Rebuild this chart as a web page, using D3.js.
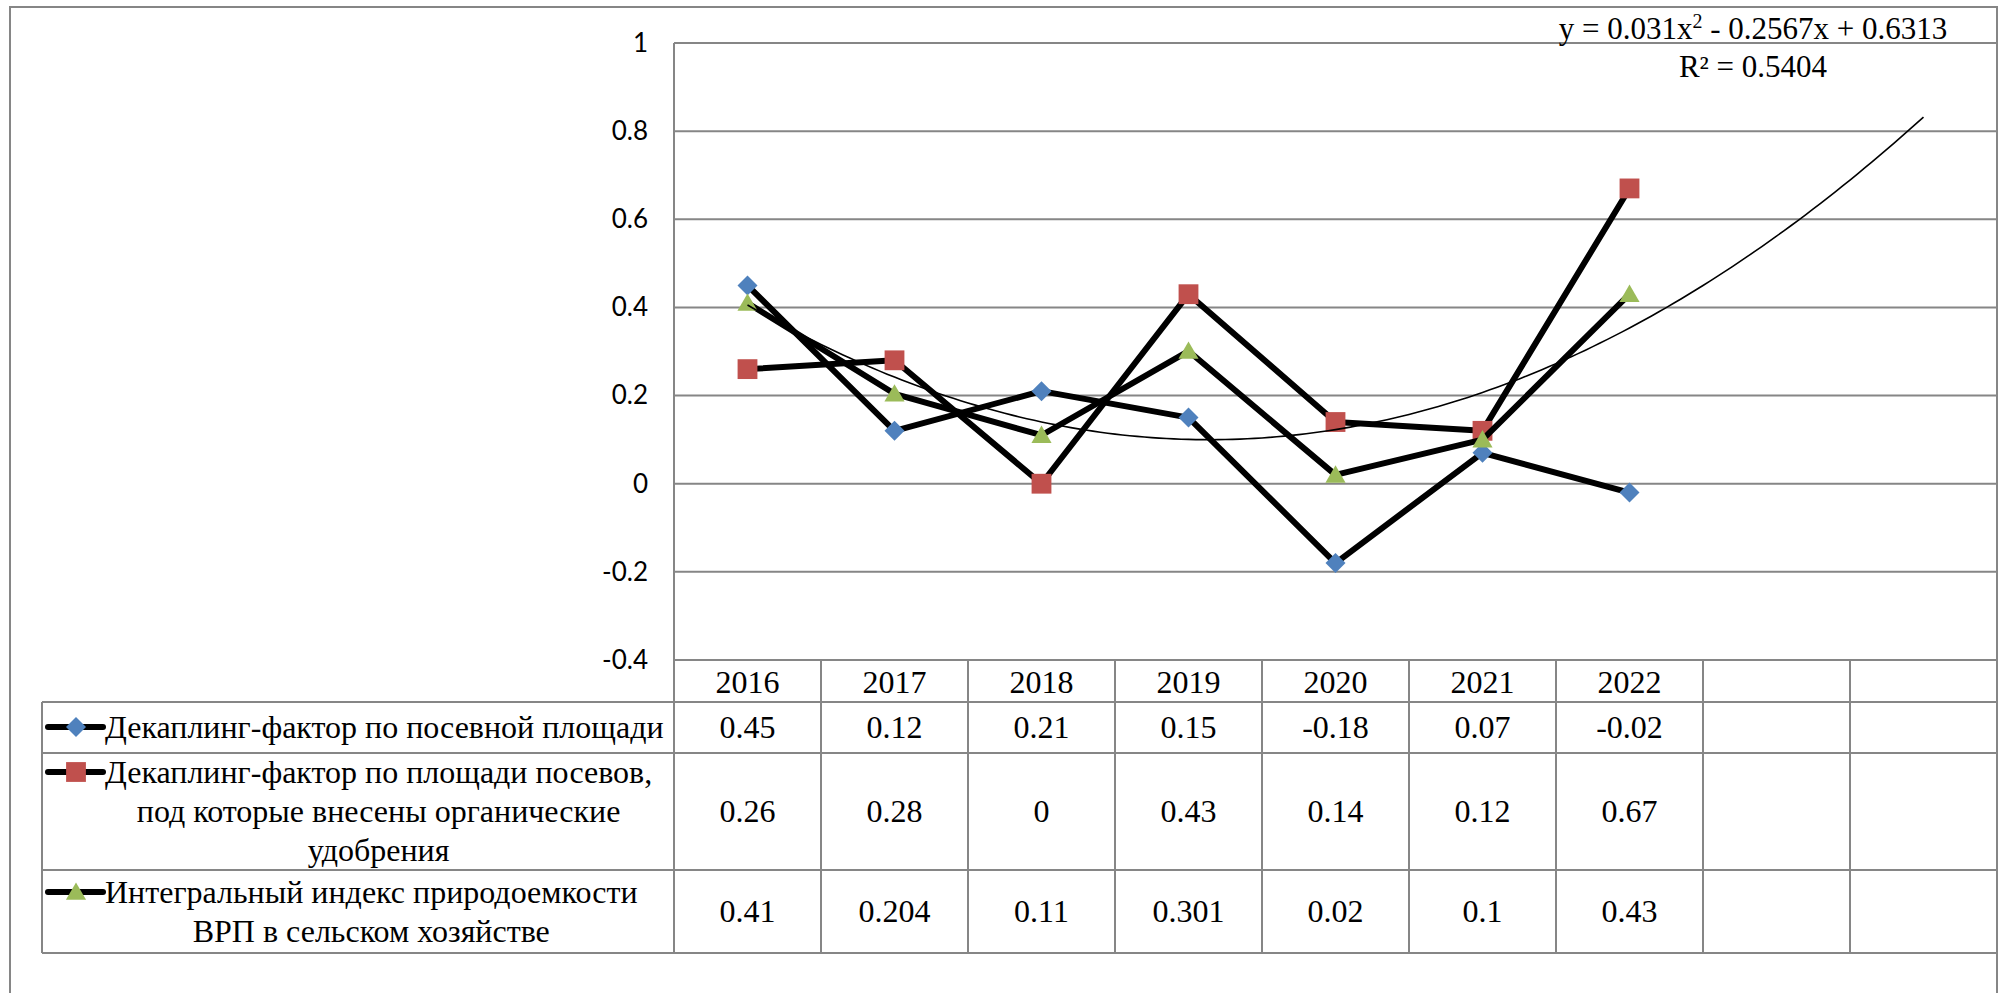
<!DOCTYPE html>
<html>
<head>
<meta charset="utf-8">
<script src="https://cdn.jsdelivr.net/npm/d3@7"></script>
<style>
  body { margin: 0; background: #fff; }
  svg { display: block; }
  .ylab { font-family: Lato, "Open Sans", sans-serif; font-size: 26px; fill: #000; }
</style>
</head>
<body>
<svg id="chart" width="2006" height="993"></svg>
<script>
// data
const years = ["2016", "2017", "2018", "2019", "2020", "2021", "2022"]
const emptySlots = 2
const seriesNames = [
  ["Декаплинг-фактор по посевной площади"],
  ["Декаплинг-фактор по площади посевов,", "под которые внесены органические", "удобрения"],
  ["Интегральный индекс природоемкости", "ВРП в сельском хозяйстве"]
]
const decouplingArea = [0.45, 0.12, 0.21, 0.15, -0.18, 0.07, -0.02]
const decouplingOrganic = [0.26, 0.28, 0, 0.43, 0.14, 0.12, 0.67]
const integralIndex = [0.41, 0.204, 0.11, 0.301, 0.02, 0.1, 0.43]
const yTicks = [-0.4, -0.2, 0, 0.2, 0.4, 0.6, 0.8, 1]
// polynomial trendline (integral index), forecast 2 periods forward
const trendCoef = [0.031, -0.2567, 0.6313]
const trendRange = [1, 9]
const trendLabel = ["y = 0.031x", "2", " - 0.2567x + 0.6313"]
const r2Label = "R² = 0.5404"

const SERIF = "'Liberation Serif', 'Times New Roman', serif"

const series = [
  { values: decouplingArea, color: "#4F81BD", shape: d3.symbolDiamond2, size: 255, dy: 0, label: seriesNames[0] },
  { values: decouplingOrganic, color: "#C0504D", shape: d3.symbolSquare2, size: 500, dy: 0, label: seriesNames[1] },
  { values: integralIndex, color: "#9BBB59", shape: d3.symbolTriangle2, size: 290, dy: 2, label: seriesNames[2] }
]

const svg = d3.select("#chart")
const gridColor = "#868686"

const plot = { left: 674, right: 1997, top: 43, bottom: 660 }
const tableLeft = 42
const rowEdges = [660, 702, 753, 870, 953]

const x = d3.scaleBand()
  .domain(d3.range(years.length + emptySlots))
  .range([plot.left, plot.right])
const cx = i => x(i) + x.bandwidth() / 2

const y = d3.scaleLinear()
  .domain([-0.4, 1])
  .range([plot.bottom, plot.top])

// outer chart border
svg.append("rect")
  .attr("x", 10).attr("y", 7)
  .attr("width", plot.right - 10).attr("height", 1100)
  .attr("fill", "none").attr("stroke", gridColor).attr("stroke-width", 2)

// gridlines
svg.append("g").selectAll("line")
  .data(yTicks)
  .enter().append("line")
  .attr("x1", plot.left).attr("x2", plot.right)
  .attr("y1", d => y(d)).attr("y2", d => y(d))
  .attr("stroke", gridColor).attr("stroke-width", 2)

// y axis labels
const yAxis = svg.append("g")
  .attr("transform", `translate(${plot.left},0)`)
  .call(d3.axisLeft(y).tickValues(yTicks).tickSize(0).tickPadding(26).tickFormat(d => String(d)))
yAxis.select(".domain").remove()
yAxis.attr("font-family", null).attr("font-size", null)
yAxis.selectAll("text").attr("class", "ylab")

// table grid
const tbl = svg.append("g").attr("stroke", gridColor).attr("stroke-width", 2)
rowEdges.forEach((ry, i) => {
  tbl.append("line")
    .attr("x1", i === 0 ? plot.left : tableLeft).attr("x2", plot.right)
    .attr("y1", ry).attr("y2", ry)
})
tbl.append("line")
  .attr("x1", tableLeft).attr("x2", tableLeft)
  .attr("y1", rowEdges[1]).attr("y2", rowEdges[4])
d3.range(years.length + emptySlots + 1).forEach(i => {
  const vx = i < years.length + emptySlots ? x(i) : plot.right
  tbl.append("line")
    .attr("x1", vx).attr("x2", vx)
    .attr("y1", i === 0 || i === years.length + emptySlots ? plot.top : rowEdges[0])
    .attr("y2", rowEdges[4])
})

// header years
svg.append("g").selectAll("text")
  .data(years)
  .enter().append("text")
  .attr("font-family", SERIF)
  .attr("font-size", 32)
  .attr("text-anchor", "middle")
  .attr("x", (d, i) => cx(i))
  .attr("y", 693)
  .text(d => d)

// value rows
const rowBase = [738, 822, 922]
series.forEach((s, si) => {
  svg.append("g").selectAll("text")
    .data(s.values)
    .enter().append("text")
    .attr("font-family", SERIF)
    .attr("font-size", 32)
    .attr("text-anchor", "middle")
    .attr("x", (d, i) => cx(i))
    .attr("y", rowBase[si])
    .text(d => String(d))
})

// legend cells
const legendBase = [[738], [783, 822, 861], [903, 942]]
series.forEach((s, si) => {
  const g = svg.append("g")
  const txt = g.append("text")
    .attr("font-family", SERIF)
    .attr("font-size", 32)
    .attr("text-anchor", "middle")
  const lines = s.label.map((t, li) => txt.append("tspan")
    .attr("y", legendBase[si][li])
    .text(t))
  let maxW = 0
  lines.forEach(l => { maxW = Math.max(maxW, l.node().getComputedTextLength()) })
  lines.forEach(l => l.attr("x", 105 + maxW / 2))

  const ky = legendBase[si][0] - 11
  g.append("line")
    .attr("x1", 48).attr("x2", 103)
    .attr("y1", ky).attr("y2", ky)
    .attr("stroke", "#000").attr("stroke-width", 6).attr("stroke-linecap", "round")
  g.append("path")
    .attr("d", d3.symbol(s.shape, s.size)())
    .attr("transform", `translate(76,${ky + s.dy})`)
    .attr("fill", s.color)
})

// series lines and markers
const line = d3.line()
  .x((d, i) => cx(i))
  .y(d => y(d))

series.forEach(s => {
  svg.append("path")
    .datum(s.values)
    .attr("d", line)
    .attr("fill", "none")
    .attr("stroke", "#000")
    .attr("stroke-width", 6)
    .attr("stroke-linejoin", "round")

  svg.append("g").selectAll("path")
    .data(s.values)
    .enter().append("path")
    .attr("d", d3.symbol(s.shape, s.size)())
    .attr("transform", (d, i) => `translate(${cx(i)},${y(d) + s.dy})`)
    .attr("fill", s.color)
})

// trendline
const tx = d3.scaleLinear().domain([1, years.length + emptySlots]).range([cx(0), cx(years.length + emptySlots - 1)])
const trendPts = d3.range(trendRange[0], trendRange[1] + 0.001, 0.05)
svg.append("path")
  .datum(trendPts)
  .attr("d", d3.line()
    .x(t => tx(t))
    .y(t => y(trendCoef[0] * t * t + trendCoef[1] * t + trendCoef[2])))
  .attr("fill", "none")
  .attr("stroke", "#000")
  .attr("stroke-width", 1.6)

// trendline equation
const eq = svg.append("text")
  .attr("font-family", SERIF)
  .attr("font-size", 31)
  .attr("text-anchor", "middle")
  .attr("x", 1753)
  .attr("y", 39)
eq.append("tspan").text(trendLabel[0])
eq.append("tspan").attr("font-size", 20).attr("dy", -11).text(trendLabel[1])
eq.append("tspan").attr("dy", 11).text(trendLabel[2])

svg.append("text")
  .attr("font-family", SERIF)
  .attr("font-size", 31)
  .attr("text-anchor", "middle")
  .attr("x", 1753)
  .attr("y", 77)
  .text(r2Label)
</script>
</body>
</html>
